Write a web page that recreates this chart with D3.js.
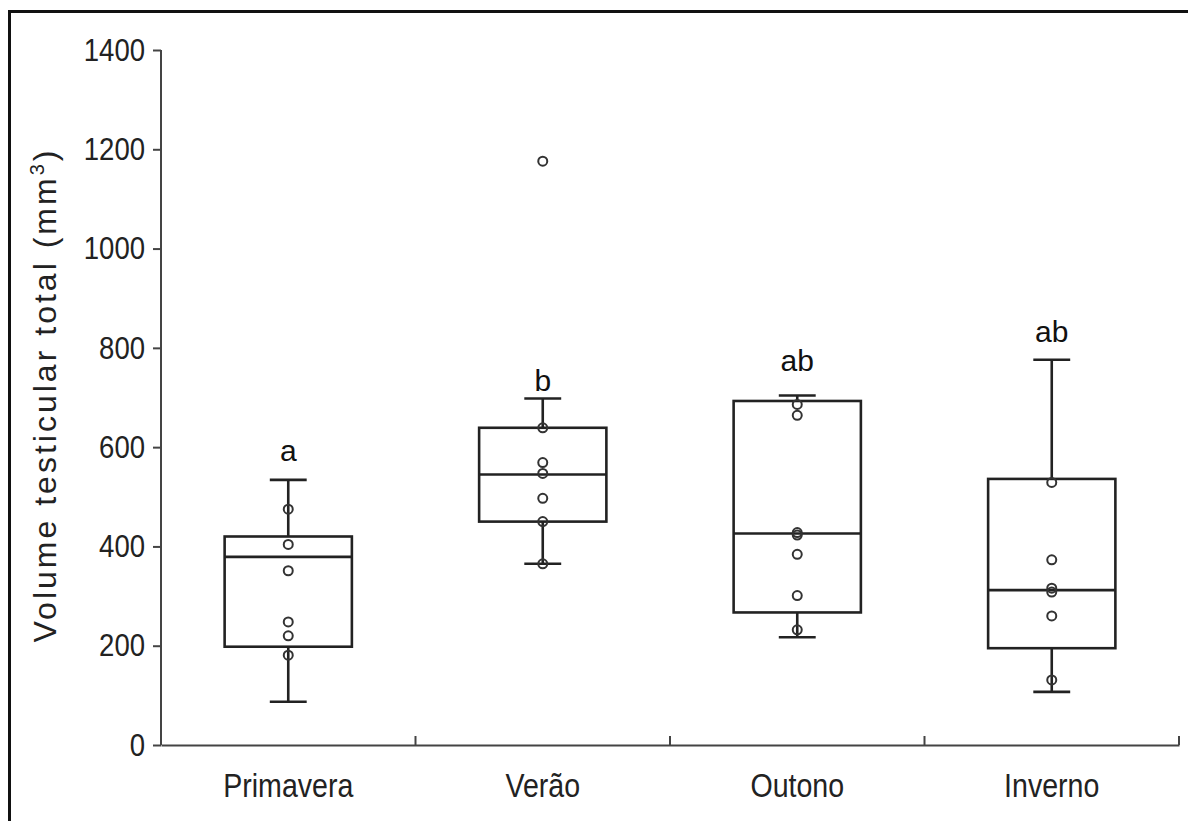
<!DOCTYPE html>
<html>
<head>
<meta charset="utf-8">
<script src="https://cdn.jsdelivr.net/npm/d3@7"></script>
<style>
  html, body { margin: 0; padding: 0; background: #fff; }
  svg { display: block; }
</style>
</head>
<body>
<svg id="chart" width="1188" height="821"></svg>
<script>
// Seasons
const seasons = ["Primavera", "Verão", "Outono", "Inverno"];

// Box summaries (mm3)
const whiskerLow = [87, 365, 217, 107];
const q1 = [198, 450, 267, 195];
const median = [379, 545, 426, 312];
const q3 = [420, 639, 693, 536];
const whiskerHigh = [534, 698, 704, 776];

// Individual observations per season
const obsPrimavera = [475, 404, 351, 248, 220, 181];
const obsVerao = [1176, 639, 569, 547, 497, 450, 365];
const obsOutono = [686, 664, 428, 423, 384, 301, 232];
const obsInverno = [529, 373, 316, 308, 260, 131];

// Significance letters and the value level where they sit
const letters = ["a", "b", "ab", "ab"];
const letterLevel = [572, 713, 753, 812];

const yTicks = [0, 200, 400, 600, 800, 1000, 1200, 1400];

const svg = d3.select("#chart");
const lineColor = "#222";
const font = "'Liberation Sans', Arial, sans-serif";

// squeeze text horizontally to mimic a condensed face
function condense(sel, k) {
  sel.each(function() {
    const w = this.getComputedTextLength();
    d3.select(this).attr("textLength", w * k).attr("lengthAdjust", "spacingAndGlyphs");
  });
}

// frame around the figure (runs off the right and bottom edges)
svg.append("rect")
  .attr("x", 9.5).attr("y", 11.5)
  .attr("width", 1300).attr("height", 900)
  .attr("fill", "none")
  .attr("stroke", "#111")
  .attr("stroke-width", 3);

const x = d3.scaleBand()
  .domain(seasons)
  .range([161, 1179])
  .padding(0);

const y = d3.scaleLinear()
  .domain([0, 1400])
  .range([745, 50]);

// Y axis
const yAxis = svg.append("g")
  .attr("transform", "translate(161,0)")
  .call(d3.axisLeft(y).tickValues(yTicks).tickSize(8).tickPadding(8).tickFormat(d3.format("d")));
yAxis.select(".domain").attr("stroke", "#444").attr("stroke-width", 2).attr("d", `M0,${y(1400)}V${y(0)}`);
yAxis.selectAll(".tick line").attr("stroke", "#444").attr("stroke-width", 2);
yAxis.selectAll(".tick text")
  .style("font-family", font)
  .style("font-size", "32px")
  .attr("fill", "#222")
  .call(condense, 0.86);

// X axis: baseline with upward ticks at category boundaries
const xAxis = svg.append("g")
  .attr("transform", `translate(0,${y(0)})`)
  .call(d3.axisBottom(x).tickSize(0).tickPadding(28));
xAxis.select(".domain").attr("stroke", "#444").attr("stroke-width", 2);
xAxis.selectAll(".tick text")
  .style("font-family", font)
  .style("font-size", "34px")
  .attr("fill", "#222")
  .call(condense, 0.84);

xAxis.selectAll("line.bound")
  .data(seasons)
  .enter()
  .append("line")
  .attr("class", "bound")
  .attr("x1", d => x(d) + x.bandwidth())
  .attr("x2", d => x(d) + x.bandwidth())
  .attr("y1", 0)
  .attr("y2", -9)
  .attr("stroke", "#444")
  .attr("stroke-width", 2);

// Y axis title
svg.append("text")
  .attr("transform", `translate(56,${(y(0) + y(1400)) / 2 - 1}) rotate(-90)`)
  .attr("text-anchor", "middle")
  .attr("textLength", 492)
  .attr("lengthAdjust", "spacing")
  .style("font-family", font)
  .style("font-size", "32px")
  .attr("fill", "#222")
  .call(t => {
    t.append("tspan").text("Volume testicular total (mm");
    t.append("tspan").attr("dy", -12).style("font-size", "20px").text("3");
    t.append("tspan").attr("dy", 12).text(")");
  });

const boxes = seasons.map((s, i) => ({
  season: s,
  lo: whiskerLow[i], q1: q1[i], med: median[i], q3: q3[i], hi: whiskerHigh[i],
  letter: letters[i], letterAt: letterLevel[i]
}));

const obs = [obsPrimavera, obsVerao, obsOutono, obsInverno];
const points = seasons.flatMap((s, i) => obs[i].map(v => ({ season: s, value: v })));

const boxW = x.bandwidth() * 0.5;
const capW = x.bandwidth() * 0.145;
const cx = s => x(s) + x.bandwidth() / 2;

const g = svg.append("g")
  .attr("stroke", lineColor)
  .attr("stroke-width", 2.6)
  .attr("fill", "none");

// whiskers
g.selectAll("line.whisk")
  .data(boxes)
  .enter()
  .append("line")
  .attr("x1", d => cx(d.season)).attr("x2", d => cx(d.season))
  .attr("y1", d => y(d.lo)).attr("y2", d => y(d.hi));

// caps
["lo", "hi"].forEach(k => {
  g.selectAll(null)
    .data(boxes)
    .enter()
    .append("line")
    .attr("x1", d => cx(d.season) - capW / 2)
    .attr("x2", d => cx(d.season) + capW / 2)
    .attr("y1", d => y(d[k])).attr("y2", d => y(d[k]));
});

// boxes
g.selectAll("rect")
  .data(boxes)
  .enter()
  .append("rect")
  .attr("x", d => cx(d.season) - boxW / 2)
  .attr("width", boxW)
  .attr("y", d => y(d.q3))
  .attr("height", d => y(d.q1) - y(d.q3))
  .attr("fill", "#fff");

// medians
g.selectAll("line.med")
  .data(boxes)
  .enter()
  .append("line")
  .attr("x1", d => cx(d.season) - boxW / 2)
  .attr("x2", d => cx(d.season) + boxW / 2)
  .attr("y1", d => y(d.med)).attr("y2", d => y(d.med));

// observations
svg.append("g")
  .selectAll("circle")
  .data(points)
  .enter()
  .append("circle")
  .attr("cx", d => cx(d.season))
  .attr("cy", d => y(d.value))
  .attr("r", 4.5)
  .attr("fill", "none")
  .attr("stroke", "#333")
  .attr("stroke-width", 2);

// letters
svg.append("g")
  .selectAll("text")
  .data(boxes)
  .enter()
  .append("text")
  .attr("x", d => cx(d.season))
  .attr("y", d => y(d.letterAt))
  .attr("text-anchor", "middle")
  .style("font-family", font)
  .style("font-size", "30px")
  .attr("fill", "#111")
  .text(d => d.letter);
</script>
</body>
</html>
